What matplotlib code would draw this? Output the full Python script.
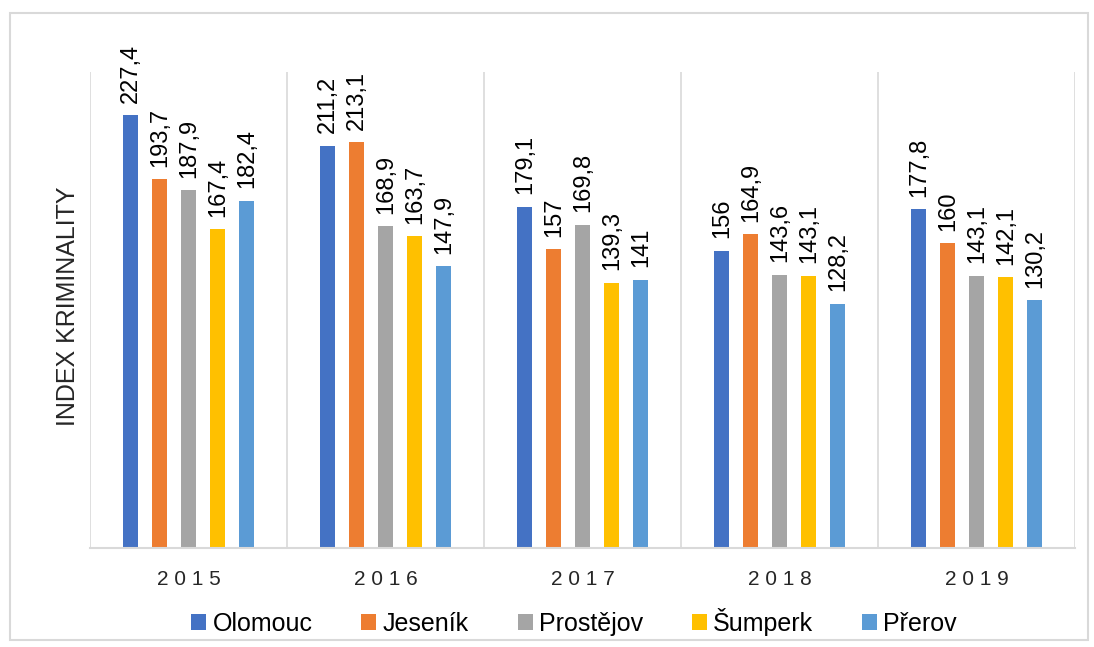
import numpy as np
import matplotlib.pyplot as plt
from matplotlib.patches import Rectangle

years = ["2015", "2016", "2017", "2018", "2019"]
districts = ["Olomouc", "Jeseník", "Prostějov", "Šumperk", "Přerov"]
olomouc = [227.4, 211.2, 179.1, 156, 177.8]
jesenik = [193.7, 213.1, 157, 164.9, 160]
prostejov = [187.9, 168.9, 169.8, 143.6, 143.1]
sumperk = [167.4, 163.7, 139.3, 143.1, 142.1]
prerov = [182.4, 147.9, 141, 128.2, 130.2]

series = [olomouc, jesenik, prostejov, sumperk, prerov]
colors = ["#4472C4", "#ED7D31", "#A5A5A5", "#FFC000", "#5B9BD5"]

plt.rcParams["font.family"] = ["Liberation Sans", "DejaVu Sans"]

fig = plt.figure(figsize=(10.94, 6.47), dpi=100)
ax = fig.add_axes([90 / 1094, 1 - 548 / 647, 985 / 1094, 476 / 647])

# light grey frame around the whole chart
fig.patches.append(Rectangle((10 / 1094, 1 - 640 / 647), 1078 / 1094, 627 / 647,
                             transform=fig.transFigure, fill=False,
                             edgecolor="#d9d9d9", linewidth=1.5))

x = np.arange(len(years))
step = 0.147
width = 0.076
for i, (vals, col) in enumerate(zip(series, colors)):
    pos = x + (i - 2) * step
    ax.bar(pos, vals, width=width, color=col, label=districts[i])
    for p, v in zip(pos, vals):
        txt = f"{v:g}".replace(".", ",")
        ax.annotate(txt, (p, v), xytext=(0.5, 9), textcoords="offset points",
                    rotation=90, ha="center", va="bottom", fontsize=17,
                    color="#000000")

ax.set_xlim(-0.5, len(years) - 0.5)
ax.set_ylim(0, 250)
ax.set_yticks([])
ax.set_xticks(x)
ax.set_xticklabels([" ".join(y) for y in years], fontsize=15, color="#262626")
ax.tick_params(axis="x", length=0, pad=16)
for b in np.arange(-0.5, len(years), 1.0):
    ax.axvline(b, color="#d9d9d9", linewidth=1.2, zorder=0)
for s in ["top", "right", "left"]:
    ax.spines[s].set_visible(False)
ax.spines["bottom"].set_color("#d9d9d9")
ax.spines["bottom"].set_linewidth(1.5)

fig.text(68 / 1094, 1 - 306 / 647, "INDEX KRIMINALITY", rotation=90,
         ha="center", va="center", fontsize=18, color="#262626")

ax.legend(loc="center", bbox_to_anchor=(574 / 1094, 1 - 622 / 647), bbox_transform=fig.transFigure,
          ncol=5, frameon=False, fontsize=18, handlelength=0.6, handleheight=0.6,
          handletextpad=0.25, columnspacing=1.95)

fig.savefig("out.png", dpi=100)
